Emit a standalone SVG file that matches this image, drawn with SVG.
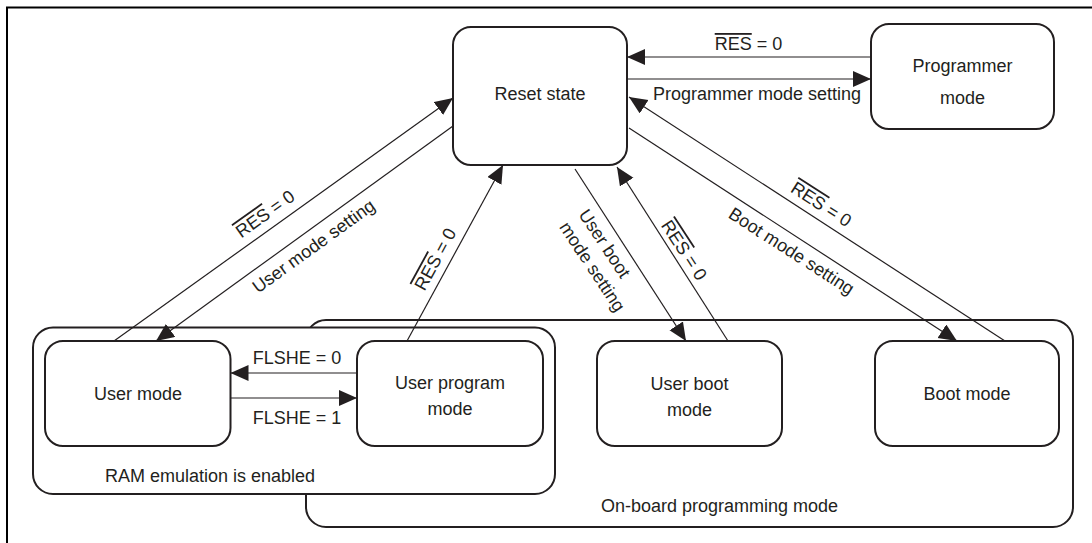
<svg xmlns="http://www.w3.org/2000/svg" width="1092" height="543" viewBox="0 0 1092 543">
<style>
.box{fill:#fff;stroke:#231f20;stroke-width:2}
.frame{fill:none;stroke:#000;stroke-width:2}
.con{fill:none;stroke:#231f20;stroke-width:1.2}
.arr{marker-end:url(#ah)}
text{font-family:"Liberation Sans",Arial,sans-serif;font-size:18px;fill:#231f20}
.c{text-anchor:middle}
.ov{text-decoration:overline}
</style>
<defs>
<marker id="ah" markerUnits="userSpaceOnUse" markerWidth="20" markerHeight="18" refX="18" refY="8" orient="auto">
<path d="M0,0 L18,8 L0,16 Z" fill="#231f20"/>
</marker>
</defs>
<rect width="1092" height="543" fill="#fff"/>
<path class="frame" d="M7,543 V7.5 H1092"/>

<g id="onboard">
<rect class="box" x="306" y="320" width="767" height="207" rx="20"/>
<text x="601" y="512">On-board programming mode</text>
</g>
<g id="ram">
<rect class="box" x="33" y="327.5" width="522" height="166.5" rx="20"/>
<text x="105" y="482">RAM emulation is enabled</text>
</g>
<g id="reset">
<rect class="box" x="453" y="27" width="174" height="138" rx="18"/>
<text class="c" x="540" y="100">Reset state</text>
</g>
<g id="programmer">
<rect class="box" x="871" y="24" width="183" height="105" rx="18"/>
<text class="c" x="962.5" y="72">Programmer</text>
<text class="c" x="962.5" y="104">mode</text>
</g>
<g id="usermode">
<rect class="box" x="45" y="341" width="185.5" height="105" rx="18"/>
<text class="c" x="138" y="400">User mode</text>
</g>
<g id="userprogram">
<rect class="box" x="357" y="341" width="186" height="105" rx="18"/>
<text class="c" x="450" y="389">User program</text>
<text class="c" x="450" y="415">mode</text>
</g>
<g id="userboot">
<rect class="box" x="597" y="341" width="185" height="105" rx="18"/>
<text class="c" x="689.5" y="390">User boot</text>
<text class="c" x="689.5" y="416">mode</text>
</g>
<g id="boot">
<rect class="box" x="875" y="341" width="184" height="105" rx="18"/>
<text class="c" x="967" y="400">Boot mode</text>
</g>

<g id="connectors">
<line class="con arr" x1="871" y1="57" x2="627" y2="57"/>
<line class="con arr" x1="627" y1="79" x2="871" y2="79"/>
<line class="con arr" x1="114" y1="341" x2="453" y2="98"/>
<line class="con arr" x1="453" y1="126" x2="156" y2="341"/>
<line class="con arr" x1="407" y1="341" x2="503" y2="165"/>
<line class="con arr" x1="575" y1="169" x2="686" y2="341"/>
<line class="con arr" x1="728" y1="341" x2="617" y2="167"/>
<line class="con arr" x1="629" y1="128" x2="957" y2="341"/>
<line class="con arr" x1="1005" y1="341" x2="629" y2="97"/>
<line class="con arr" x1="357" y1="373" x2="230.5" y2="373"/>
<line class="con arr" x1="230.5" y1="398" x2="357" y2="398"/>

<text class="c" x="748.5" y="50"><tspan class="ov">RES</tspan> = 0</text>
<text x="653" y="100">Programmer mode setting</text>
<text class="c" x="297" y="364">FLSHE = 0</text>
<text class="c" x="297" y="424">FLSHE = 1</text>
<text class="c" transform="translate(265,213.5) rotate(-35.6)" y="6.5"><tspan class="ov">RES</tspan> = 0</text>
<text class="c" transform="translate(313.4,245.8) rotate(-35.8)" y="6.5">User mode setting</text>
<text class="c" transform="translate(435,259) rotate(-61.4)" y="6.5"><tspan class="ov">RES</tspan> = 0</text>
<text class="c" transform="translate(684.4,250) rotate(56.8)" y="6.5"><tspan class="ov">RES</tspan> = 0</text>
<text transform="translate(578,214.4) rotate(56.5)"><tspan x="0" y="0">User boot</tspan><tspan x="0" y="23">mode setting</tspan></text>
<text class="c" transform="translate(821.5,204) rotate(32.7)" y="6.5"><tspan class="ov">RES</tspan> = 0</text>
<text class="c" transform="translate(791.7,250.8) rotate(32.7)" y="6.5">Boot mode setting</text>
</g>
</svg>
